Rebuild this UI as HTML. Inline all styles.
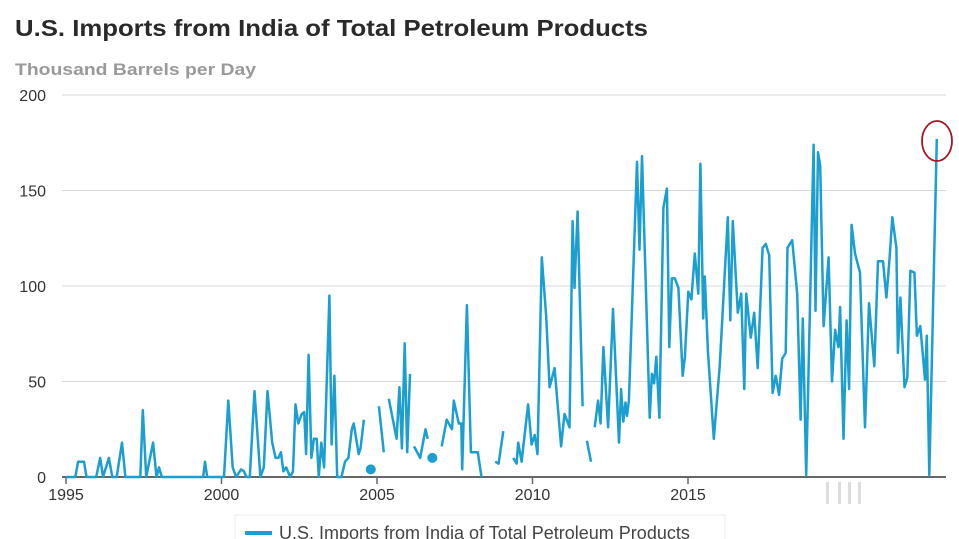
<!DOCTYPE html>
<html><head><meta charset="utf-8"><style>
html,body{margin:0;padding:0;background:#fff;}
svg{display:block;font-family:"Liberation Sans",Arial,sans-serif;}
</style></head><body>
<svg id="chart" width="959" height="539" viewBox="0 0 959 539">
<text x="15" y="36" font-size="23" font-weight="bold" fill="#2a2a2a" textLength="633" lengthAdjust="spacingAndGlyphs">U.S. Imports from India of Total Petroleum Products</text>
<text x="15" y="75" font-size="17" font-weight="bold" fill="#999" textLength="241" lengthAdjust="spacingAndGlyphs">Thousand Barrels per Day</text>
<g id="grid"></g>
<g id="series"></g>
<g>
<rect x="826" y="482" width="3" height="22" fill="#ddd"/><rect x="838" y="482" width="3" height="22" fill="#ddd"/><rect x="848" y="482" width="3" height="22" fill="#ddd"/><rect x="858" y="482" width="3" height="22" fill="#ddd"/>
</g>
<ellipse cx="937" cy="141" rx="15" ry="20" fill="none" stroke="#a3162a" stroke-width="1.8"/>
<g>
<rect x="235" y="515" width="490" height="30" fill="#fff" stroke="#eee"/>
<line x1="245" y1="533" x2="272" y2="533" stroke="#1a9fd0" stroke-width="4"/>
<text x="279" y="539" font-size="18" fill="#444">U.S. Imports from India of Total Petroleum Products</text>
</g>
</svg>
<script>
const yTicks=[0,50,100,150,200];
const xTicks=[1995,2000,2005,2010,2015];
const dates=[1995,1995.3,1995.39,1995.58,1995.66,1995.97,1996.1,1996.19,1996.38,1996.49,1996.63,1996.8,1996.91,1997.39,1997.47,1997.58,1997.8,1997.91,1997.99,1998.08,1999.41,1999.47,1999.54,2000.08,2000.22,2000.36,2000.47,2000.63,2000.72,2000.8,2000.91,2001.06,2001.25,2001.36,2001.48,2001.63,2001.74,2001.83,2001.91,2001.99,2002.08,2002.21,2002.3,2002.38,2002.47,2002.58,2002.66,2002.72,2002.8,2002.89,2002.97,2003.06,2003.13,2003.21,2003.3,2003.47,2003.54,2003.63,2003.72,2003.86,2003.97,2004.08,2004.19,2004.25,2004.41,2004.47,2004.58,null,
2005.06,2005.22,null,2005.38,2005.63,2005.72,2005.8,2005.89,2005.97,2006.06,null,2006.19,2006.39,2006.56,2006.63,null,
2007.08,2007.24,2007.41,2007.47,2007.63,2007.71,2007.74,2007.89,2008.02,2008.13,2008.24,2008.36,null,2008.8,2008.91,2009.06,null,
2009.38,2009.49,2009.54,2009.65,2009.86,2009.97,2010.07,2010.16,2010.3,2010.44,2010.55,2010.71,2010.92,2011.03,2011.19,2011.29,2011.35,2011.45,2011.61,null,2011.75,2011.88,null,
2012.0,2012.11,2012.19,2012.28,2012.43,2012.59,2012.78,2012.85,2012.92,2012.99,2013.04,2013.1,2013.36,2013.44,2013.52,2013.77,2013.84,2013.91,2013.98,2014.08,2014.21,2014.32,2014.4,2014.48,2014.58,2014.69,2014.83,2014.9,2015.01,2015.11,2015.22,2015.33,2015.4,2015.49,2015.54,2015.64,2015.83,2016.02,2016.09,2016.28,2016.36,2016.44,2016.6,2016.71,2016.81,2016.87,2017.02,2017.13,2017.24,2017.4,2017.5,2017.61,2017.72,2017.82,2017.93,2018.03,2018.14,2018.2,2018.35,2018.51,2018.62,2018.69,2018.8,2019.04,2019.1,2019.18,2019.25,2019.36,2019.52,2019.63,2019.73,2019.84,2019.89,2020.0,2020.1,2020.18,2020.26,2020.37,2020.53,2020.69,2020.82,2020.99,2021.11,2021.27,2021.38,2021.48,2021.57,2021.7,2021.75,2021.83,2021.96,2022.05,2022.15,2022.28,2022.36,2022.47,2022.62,2022.68,2022.76,2023.0];
const values=[0,0,8,8,0,0,10,0,10,0,0,18,0,0,35,0,18,0,5,0,0,8,0,0,40,5,0,4,3,0,0,45,0,5,45,18,10,10,13,3,5,0,3,38,28,33,34,12,64,10,20,20,0,18,5,95,17,53,0,0,8,10,25,28,12,15,30,null,
37,13,null,41,20,47,15,70,13,54,null,16,10,25,20,null,
16,30,25,40,28,28,4,90,13,13,13,0,null,8,7,24,null,
10,7,18,8,38,17,22,12,115,84,47,57,16,33,26,134,99,139,37,null,19,8,null,
26,40,28,68,26,88,18,46,29,39,32,40,165,119,168,31,54,49,63,31,141,151,68,104,104,99,53,63,97,93,117,96,164,83,105,66,20,58,79,136,82,134,86,96,46,96,73,86,57,120,122,116,44,53,43,62,65,120,124,96,30,83,1,174,87,170,163,79,115,50,77,68,89,20,82,46,132,117,107,26,91,58,113,113,94,114,136,120,65,94,47,52,108,107,74,79,51,74,1,177];
const dotDates=[2004.8,2006.78];
const dotValues=[4,10];
const NS='http://www.w3.org/2000/svg';
function xs(yr){return 66+(yr-1995)*31.1;}
function ys(v){return 477-v*1.91;}
const grid=document.getElementById('grid');
yTicks.forEach(t=>{
  const l=document.createElementNS(NS,'line');
  l.setAttribute('x1',62);l.setAttribute('x2',946);
  l.setAttribute('y1',ys(t));l.setAttribute('y2',ys(t));
  l.setAttribute('stroke',t===0?'#666':'#d8d8d8');l.setAttribute('stroke-width',t===0?2:1);
  
  
  grid.appendChild(l);
  const tx=document.createElementNS(NS,'text');
  tx.setAttribute('x',46);tx.setAttribute('y',ys(t)+6);tx.setAttribute('text-anchor','end');
  tx.setAttribute('font-size','16');tx.setAttribute('fill','#333');
  tx.textContent=t;
  
  
  grid.appendChild(tx);
});
xTicks.forEach(t=>{
  const l=document.createElementNS(NS,'line');
  l.setAttribute('x1',xs(t));l.setAttribute('x2',xs(t));l.setAttribute('y1',477);l.setAttribute('y2',484);
  l.setAttribute('stroke','#666');l.setAttribute('stroke-width',1.5);
  
  
  grid.appendChild(l);
  const tx=document.createElementNS(NS,'text');
  tx.setAttribute('x',xs(t));tx.setAttribute('y',500);tx.setAttribute('text-anchor','middle');
  tx.setAttribute('font-size','16');tx.setAttribute('fill','#333');
  tx.textContent=t;
  
  
  grid.appendChild(tx);
});
const series=document.getElementById('series');
let d='',pen=false;
for(let i=0;i<dates.length;i++){
  if(dates[i]===null||values[i]===null){pen=false;continue;}
  d+=(pen?'L':'M')+xs(dates[i]).toFixed(1)+' '+ys(values[i]).toFixed(1)+' ';
  pen=true;
}
const p=document.createElementNS(NS,'path');
p.setAttribute('d',d);p.setAttribute('fill','none');p.setAttribute('stroke','#1a9fd0');
p.setAttribute('stroke-width','2.5');p.setAttribute('stroke-linejoin','round');


series.appendChild(p);
dotDates.forEach((dt,i)=>{
  const c=document.createElementNS(NS,'circle');
  c.setAttribute('cx',xs(dt));c.setAttribute('cy',ys(dotValues[i]));c.setAttribute('r',5);
  c.setAttribute('fill','#1a9fd0');
  
  
  series.appendChild(c);
});
</script>
</body></html>
